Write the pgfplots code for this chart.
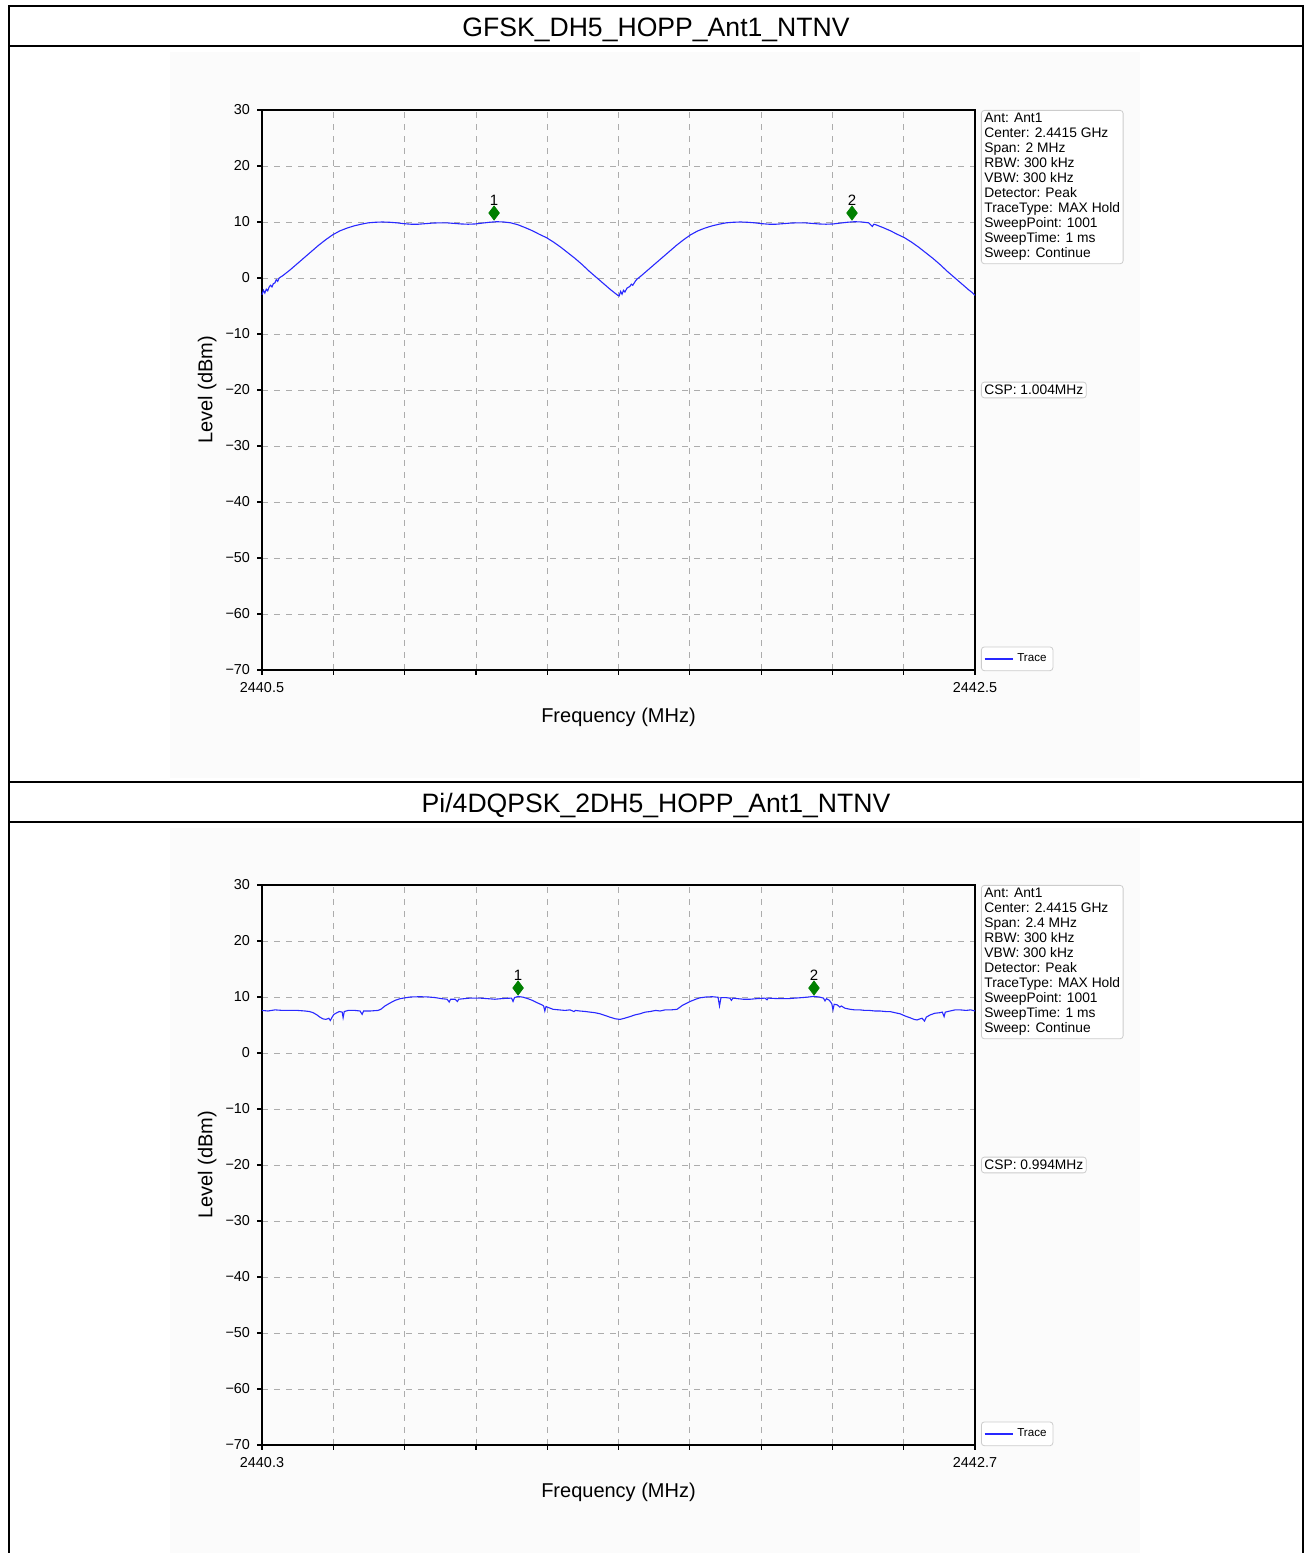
\documentclass[border=0pt]{standalone}
\usepackage{fontspec}
\setmainfont{Liberation Sans}
\usepackage{pgfplots}
\pgfplotsset{compat=1.18}

\definecolor{trace}{RGB}{40,40,255}
\definecolor{mk}{RGB}{0,128,0}
\definecolor{bx}{RGB}{204,204,204}
\definecolor{bg}{RGB}{251,251,251}

\pgfplotsset{
 spec/.style={
  scale only axis, width=356.5pt, height=280pt,
  ymin=-70, ymax=30,
  ytick={-70,-60,...,30},
  yticklabels={−70,−60,−50,−40,−30,−20,−10,0,10,20,30},
  grid=major, grid style={dashed, gray!65, line width=0.35pt},
  axis line style={line width=0.6pt},
  tick align=outside, tick pos=left, major tick length=2.5pt,
  tick style={black, line width=0.6pt},
  ticklabel style={font=\fontsize{7.2}{8}\selectfont},
  xlabel={Frequency (MHz)}, ylabel={Level (dBm)},
  label style={font=\fontsize{10}{12}\selectfont},
  xlabel style={at={(axis description cs:0.5,-0.084)}, anchor=center},
  ylabel style={at={(axis description cs:-0.077,0.5)}, anchor=center},
  clip=false,
  legend style={at={(1.0084,-0.002)}, anchor=south west,
    font=\fontsize{5.8}{6.5}\selectfont, draw=bx, rounded corners=1.5pt, inner sep=1.2pt},
  legend image code/.code={\draw[#1, trace, line width=0.75pt] (0pt,0pt) -- (14pt,0pt);},
 },
 mkr/.style={only marks, mark=diamond*, mark size=3.5pt, mark options={fill=mk, draw=mk},
  forget plot, nodes near coords, point meta=explicit symbolic,
  nodes near coords style={anchor=south, font=\fontsize{7.5}{8}\selectfont, inner sep=0pt, yshift=3.6pt, text=black}},
}
\tikzset{
 infob/.style={anchor=north west, draw=bx, fill=white, rounded corners=1.5pt, align=left,
  inner sep=1.5pt, font=\fontsize{6.9}{7.5}\selectfont},
 cspb/.style={anchor=west, draw=bx, fill=white, rounded corners=1.5pt,
  inner sep=1.5pt, font=\fontsize{6.9}{7.5}\selectfont},
}

\begin{document}
\begin{tikzpicture}
\useasboundingbox (0pt,0pt) rectangle (655pt,776.5pt);
\fill[white] (0pt,0pt) rectangle (655pt,776.5pt);
\fill[bg] (85pt,387.5pt) rectangle (570pt,750.5pt);
\fill[bg] (85pt,0pt) rectangle (570pt,362.5pt);
% table frame
\draw[line width=1.2pt] (4.5pt,0pt) -- (4.5pt,774pt);
\draw[line width=1.2pt] (651.5pt,0pt) -- (651.5pt,774pt);
\draw[line width=1.2pt] (4.5pt,773.5pt) -- (651.5pt,773.5pt);
\draw[line width=1.2pt] (4.5pt,753.5pt) -- (651.5pt,753.5pt);
\draw[line width=1.2pt] (4.5pt,385.5pt) -- (651.5pt,385.5pt);
\draw[line width=1.2pt] (4.5pt,365.5pt) -- (651.5pt,365.5pt);
\node[font=\fontsize{13.3}{15}\selectfont] at (328pt,761.5pt) {GFSK\_DH5\_HOPP\_Ant1\_NTNV};
\node[font=\fontsize{13.3}{15}\selectfont] at (328pt,373.5pt) {Pi/4DQPSK\_2DH5\_HOPP\_Ant1\_NTNV};

\begin{axis}[spec, at={(131pt,441.5pt)}, anchor=south west,
  xmin=2440.5, xmax=2442.5,
  xtick={2440.5,2440.7,2440.9,2441.1,2441.3,2441.5,2441.7,2441.9,2442.1,2442.3,2442.5},
  xticklabels={2440.5,{},{},{},{},{},{},{},{},{},2442.5}]
\addplot[trace, line width=0.55pt] coordinates {
(2440.500,-3.0) (2440.504,-2.2) (2440.508,-2.7) (2440.512,-2.0) (2440.516,-2.3)
(2440.520,-1.6) (2440.524,-1.3) (2440.528,-1.6) (2440.532,-1.0) (2440.536,-0.9)
(2440.540,-0.3) (2440.544,-0.6) (2440.548,0.0) (2440.558,0.4) (2440.578,1.4)
(2440.598,2.5) (2440.618,3.6) (2440.638,4.7) (2440.658,5.8) (2440.678,6.8)
(2440.698,7.7) (2440.718,8.4) (2440.738,8.9) (2440.758,9.3) (2440.778,9.6)
(2440.798,9.85) (2440.818,9.95) (2440.838,10.0) (2440.858,9.95) (2440.878,9.85)
(2440.898,9.7) (2440.918,9.6) (2440.938,9.6) (2440.958,9.7) (2440.978,9.8)
(2440.998,9.85) (2441.018,9.85) (2441.038,9.75) (2441.058,9.65) (2441.078,9.6)
(2441.098,9.65) (2441.118,9.8) (2441.138,9.95) (2441.158,10.05) (2441.178,10.0)
(2441.198,9.85) (2441.218,9.5) (2441.238,9.0) (2441.258,8.45) (2441.278,7.8)
(2441.298,7.2) (2441.318,6.4) (2441.338,5.5) (2441.358,4.5) (2441.378,3.5)
(2441.398,2.4) (2441.418,1.2) (2441.438,0.1) (2441.458,-1.0) (2441.478,-2.1)
(2441.488,-2.6) (2441.498,-3.1)
(2441.502,-3.2) (2441.506,-2.4) (2441.510,-2.9) (2441.514,-2.2) (2441.518,-2.5)
(2441.524,-1.8) (2441.532,-1.5) (2441.536,-1.1) (2441.540,-1.3) (2441.548,-0.5)
(2441.552,-0.2) (2441.562,0.3) (2441.582,1.4) (2441.602,2.5) (2441.622,3.6)
(2441.642,4.7) (2441.662,5.8) (2441.682,6.8) (2441.702,7.7) (2441.722,8.4)
(2441.742,8.9) (2441.762,9.3) (2441.782,9.6) (2441.802,9.85) (2441.822,9.95)
(2441.842,10.0) (2441.862,9.95) (2441.882,9.85) (2441.902,9.7) (2441.922,9.6)
(2441.942,9.6) (2441.962,9.7) (2441.982,9.8) (2442.002,9.85) (2442.022,9.85)
(2442.042,9.75) (2442.062,9.65) (2442.082,9.6) (2442.102,9.65) (2442.122,9.8)
(2442.142,9.95) (2442.162,10.05) (2442.182,10.0) (2442.202,9.85) (2442.212,9.2)
(2442.216,9.6) (2442.222,9.5) (2442.242,9.0) (2442.262,8.45) (2442.282,7.8)
(2442.302,7.2) (2442.322,6.4) (2442.342,5.5) (2442.362,4.5) (2442.382,3.5)
(2442.402,2.4) (2442.422,1.2) (2442.442,0.1)
(2442.462,-1.0) (2442.482,-2.1) (2442.492,-2.6) (2442.500,-3.1)
};
\addlegendentry{Trace}
\addplot[mkr] coordinates {(2441.151,11.6) [1] (2442.155,11.6) [2]};
\node[infob] at (rel axis cs:1.0084,1) {Ant: Ant1\\Center: 2.4415 GHz\\Span: 2 MHz\\RBW: 300 kHz\\VBW: 300 kHz\\Detector: Peak\\TraceType: MAX Hold\\SweepPoint: 1001\\SweepTime: 1 ms\\Sweep: Continue};
\node[cspb] at (rel axis cs:1.0084,0.5) {CSP: 1.004MHz};
\end{axis}

\begin{axis}[spec, at={(131pt,54pt)}, anchor=south west,
  xmin=2440.3, xmax=2442.7,
  xtick={2440.3,2440.54,2440.78,2441.02,2441.26,2441.5,2441.74,2441.98,2442.22,2442.46,2442.7},
  xticklabels={2440.3,{},{},{},{},{},{},{},{},{},2442.7}]
\addplot[trace, line width=0.55pt] coordinates {
(2440.300,7.6) (2440.320,7.5) (2440.344,7.7) (2440.370,7.6) (2440.394,7.6)
(2440.420,7.6) (2440.445,7.5) (2440.460,7.4) (2440.472,7.2) (2440.485,6.8)
(2440.495,6.4) (2440.505,6.1) (2440.515,6.0) (2440.525,6.2) (2440.530,5.8)
(2440.536,6.4) (2440.542,6.9) (2440.549,7.1) (2440.560,7.4) (2440.570,7.3)
(2440.573,6.3) (2440.577,7.4) (2440.590,7.6) (2440.613,7.6) (2440.630,7.5)
(2440.637,6.9) (2440.642,7.5) (2440.664,7.5) (2440.690,7.6) (2440.700,7.8)
(2440.714,8.4) (2440.730,8.9) (2440.748,9.4) (2440.765,9.7) (2440.781,9.85)
(2440.800,10.0) (2440.832,10.05) (2440.860,10.0) (2440.882,9.9) (2440.905,9.7)
(2440.923,9.6) (2440.930,9.1) (2440.935,9.6) (2440.950,9.6) (2440.958,9.2)
(2440.962,9.6) (2440.980,9.7) (2441.000,9.8) (2441.034,9.8) (2441.060,9.7)
(2441.084,9.6) (2441.105,9.7) (2441.118,9.75) (2441.140,9.8) (2441.145,9.2)
(2441.150,9.9) (2441.162,10.1) (2441.180,9.95) (2441.195,9.7) (2441.210,9.4)
(2441.225,9.0) (2441.242,8.6) (2441.248,8.4) (2441.252,7.5) (2441.256,8.3)
(2441.265,8.1) (2441.280,7.8) (2441.300,7.7) (2441.320,7.6) (2441.337,7.7)
(2441.350,7.4) (2441.355,7.6) (2441.370,7.5) (2441.390,7.4) (2441.404,7.3)
(2441.420,7.2) (2441.438,7.0) (2441.455,6.7) (2441.471,6.4) (2441.490,6.1)
(2441.505,6.0) (2441.520,6.2) (2441.539,6.5) (2441.555,6.8) (2441.572,7.0)
(2441.590,7.3) (2441.606,7.4) (2441.625,7.6) (2441.640,7.5) (2441.657,7.7)
(2441.677,7.7) (2441.697,7.8) (2441.715,8.5) (2441.741,9.2) (2441.760,9.6)
(2441.774,9.85) (2441.795,10.0) (2441.815,10.05) (2441.835,9.95) (2441.840,8.4)
(2441.845,9.9) (2441.860,9.9) (2441.875,9.8) (2441.880,9.4) (2441.885,9.8)
(2441.902,9.7) (2441.920,9.6) (2441.943,9.6) (2441.965,9.7) (2441.993,9.8)
(2442.000,9.5) (2442.004,9.8) (2442.020,9.75) (2442.044,9.7) (2442.070,9.7)
(2442.094,9.8) (2442.120,9.9) (2442.140,10.0) (2442.158,10.1) (2442.175,10.0)
(2442.190,9.8) (2442.195,9.3) (2442.200,9.7) (2442.210,9.4) (2442.218,8.8)
(2442.222,7.7) (2442.226,8.7) (2442.236,8.6) (2442.245,8.2) (2442.250,8.4)
(2442.262,8.0) (2442.280,7.8) (2442.295,7.7) (2442.313,7.7) (2442.330,7.6)
(2442.345,7.6) (2442.363,7.5) (2442.380,7.5) (2442.400,7.4) (2442.414,7.4)
(2442.430,7.2) (2442.448,7.0) (2442.465,6.6) (2442.481,6.3) (2442.495,6.0)
(2442.505,5.9) (2442.515,6.1) (2442.522,6.2) (2442.530,5.7) (2442.536,6.4)
(2442.549,6.8) (2442.565,7.1) (2442.582,7.2) (2442.590,7.3) (2442.596,6.5)
(2442.600,7.3) (2442.616,7.5) (2442.633,7.7) (2442.650,7.7) (2442.670,7.6)
(2442.685,7.7) (2442.700,7.5)
};
\addlegendentry{Trace}
\addplot[mkr] coordinates {(2441.162,11.6) [1] (2442.158,11.6) [2]};
\node[infob] at (rel axis cs:1.0084,1) {Ant: Ant1\\Center: 2.4415 GHz\\Span: 2.4 MHz\\RBW: 300 kHz\\VBW: 300 kHz\\Detector: Peak\\TraceType: MAX Hold\\SweepPoint: 1001\\SweepTime: 1 ms\\Sweep: Continue};
\node[cspb] at (rel axis cs:1.0084,0.5) {CSP: 0.994MHz};
\end{axis}
\end{tikzpicture}
\end{document}
